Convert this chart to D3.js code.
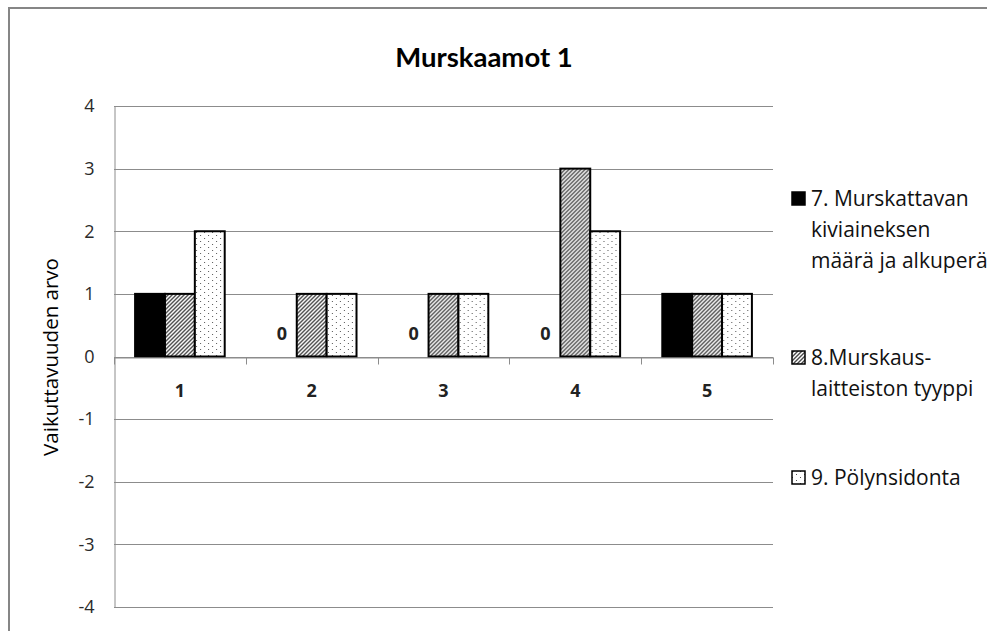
<!DOCTYPE html>
<html>
<head>
<meta charset="utf-8">
<script src="https://cdn.jsdelivr.net/npm/d3@7"></script>
<style>
  html, body { margin: 0; padding: 0; background: #fff; }
  svg { display: block; }
</style>
</head>
<body>
<svg id="chart" width="987" height="631"></svg>
<script>
// Categories along the x axis
const categories = ["1", "2", "3", "4", "5"];
// Legend entries, split into the lines they wrap to
const legendLines = [
  ["7. Murskattavan", "kiviaineksen", "määrä ja alkuperä"],
  ["8.Murskaus-", "laitteiston tyyppi"],
  ["9. Pölynsidonta"]
];
// Values per series, one per category
const series7 = [1, 0, 0, 0, 1];
const series8 = [1, 1, 1, 3, 1];
const series9 = [2, 1, 1, 2, 1];
// Y axis ticks
const yTicks = [4, 3, 2, 1, 0, -1, -2, -3, -4];

const chartTitle = "Murskaamot 1";
const yTitle = "Vaikuttavuuden arvo";

const allSeries = [series7, series8, series9];
const fills = ["#000", "url(#hatch)", "url(#dots)"];
const font = "'Open Sans', sans-serif";
const titleFont = "Lato, 'Open Sans', sans-serif";

const svg = d3.select("#chart");

// Patterns for the hatched and dotted bars
const defs = svg.append("defs");
const hatch = defs.append("pattern")
  .attr("id", "hatch").attr("patternUnits", "userSpaceOnUse")
  .attr("width", 4).attr("height", 4);
hatch.append("rect").attr("width", 4).attr("height", 4).attr("fill", "#fff");
hatch.append("path")
  .attr("d", "M-1,1 l2,-2 M0,4 l4,-4 M3,5 l2,-2")
  .attr("stroke", "#4a4a4a").attr("stroke-width", 1.4);

const dots = defs.append("pattern")
  .attr("id", "dots").attr("patternUnits", "userSpaceOnUse")
  .attr("width", 8).attr("height", 6);
dots.append("rect").attr("width", 8).attr("height", 6).attr("fill", "#fff");
dots.append("rect").attr("x", 1).attr("y", 1).attr("width", 1).attr("height", 1).attr("fill", "#555");
dots.append("rect").attr("x", 5).attr("y", 4).attr("width", 1).attr("height", 1).attr("fill", "#555");

// Chart frame
svg.append("rect")
  .attr("x", 9).attr("y", 8).attr("width", 1000).attr("height", 700)
  .attr("fill", "none").attr("stroke", "#868686").attr("stroke-width", 2);

const plot = { left: 114, right: 773, top: 106, bottom: 607 };

const y = d3.scaleLinear().domain([-4, 4]).range([plot.bottom, plot.top]);
const x = d3.scaleBand().domain(categories)
  .range([plot.left, plot.right]).paddingInner(0.32).paddingOuter(0.16);
const x1 = d3.scaleBand().domain(d3.range(allSeries.length))
  .range([0, x.bandwidth()]);

// Horizontal gridlines
svg.append("g").selectAll("line").data(yTicks).join("line")
  .attr("x1", plot.left).attr("x2", plot.right)
  .attr("y1", d => Math.round(y(d)) + 0.5).attr("y2", d => Math.round(y(d)) + 0.5)
  .attr("stroke", "#8c8c8c").attr("stroke-width", 1);

// Y axis
const yAxis = svg.append("g")
  .attr("transform", `translate(${plot.left + 0.5},0)`)
  .call(d3.axisLeft(y).tickValues(yTicks).tickSize(0).tickPadding(20)
    .tickFormat(d => String(d)));
yAxis.select(".domain").attr("stroke", "#8c8c8c");
yAxis.selectAll("text")
  .attr("font-family", font).attr("font-size", 18).attr("fill", "#2a2a2a");

// Bars
const groups = svg.append("g").selectAll("g").data(categories).join("g")
  .attr("transform", d => `translate(${x(d)},0)`);
groups.selectAll("rect")
  .data((c, i) => allSeries.map((s, k) => ({ k, v: s[i] })).filter(d => d.v !== 0))
  .join("rect")
  .attr("x", d => x1(d.k))
  .attr("width", x1.bandwidth())
  .attr("y", d => y(Math.max(0, d.v)))
  .attr("height", d => Math.abs(y(d.v) - y(0)))
  .attr("fill", d => fills[d.k])
  .attr("stroke", "#000").attr("stroke-width", 2);

// Zero-value labels
groups.selectAll("text.zero")
  .data((c, i) => allSeries.map((s, k) => ({ k, v: s[i] })).filter(d => d.v === 0))
  .join("text").attr("class", "zero")
  .attr("x", d => x1(d.k) + x1.bandwidth() / 2)
  .attr("y", y(0) - 17)
  .attr("text-anchor", "middle")
  .attr("font-family", font).attr("font-weight", "bold").attr("font-size", 18)
  .attr("fill", "#222")
  .text(d => d.v);

// X axis at zero with ticks at category boundaries
const xAxis = svg.append("g")
  .attr("transform", `translate(0,${Math.round(y(0)) + 0.5})`)
  .call(d3.axisBottom(x).tickSize(0));
xAxis.select(".domain").attr("stroke", "#8c8c8c");
xAxis.selectAll(".tick text")
  .attr("y", 39).attr("dy", 0)
  .attr("font-family", font).attr("font-weight", "bold").attr("font-size", 18).attr("fill", "#222");
const bounds = categories.map(c => x(c) - x.step() * x.paddingInner() / 2);
bounds.push(plot.right);
xAxis.append("g").selectAll("line").data(bounds).join("line")
  .attr("x1", d => Math.round(d) + 0.5).attr("x2", d => Math.round(d) + 0.5)
  .attr("y1", 0).attr("y2", 7)
  .attr("stroke", "#8c8c8c");

// Title
svg.append("text")
  .attr("x", 484).attr("y", 67)
  .attr("text-anchor", "middle")
  .attr("font-family", titleFont).attr("font-weight", "bold").attr("font-size", 27.5)
  .attr("fill", "#000")
  .text(chartTitle);

// Y axis title
svg.append("text")
  .attr("transform", `translate(58,357) rotate(-90)`)
  .attr("text-anchor", "middle")
  .attr("font-family", font).attr("font-size", 20.5).attr("fill", "#000")
  .text(yTitle);

// Legend
const legendTops = [191, 350, 470];
const legend = svg.append("g").selectAll("g").data(legendLines).join("g")
  .attr("transform", (d, i) => `translate(791,${legendTops[i]})`);
legend.append("rect")
  .attr("x", 1).attr("y", 1).attr("width", 13).attr("height", 13)
  .attr("fill", (d, i) => fills[i]).attr("stroke", "#000").attr("stroke-width", 1.5);
legend.append("text")
  .attr("font-family", font).attr("font-size", 21).attr("fill", "#111")
  .selectAll("tspan").data(d => d).join("tspan")
  .attr("x", 20).attr("y", (d, j) => 15 + j * 31)
  .text(d => d);
</script>
</body>
</html>
